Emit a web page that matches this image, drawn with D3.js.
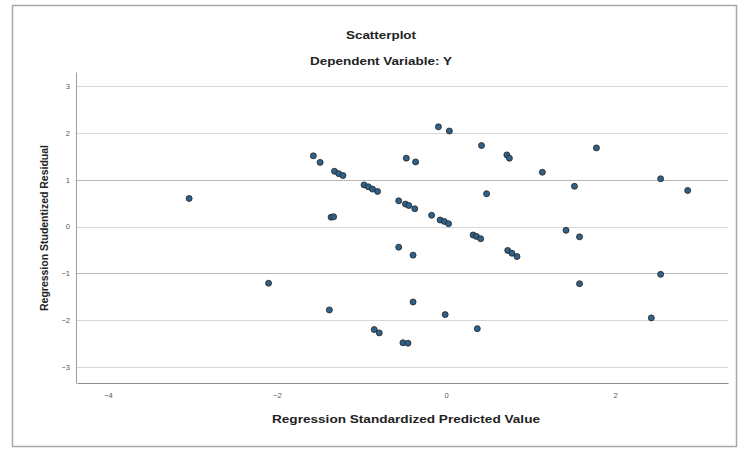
<!DOCTYPE html>
<html>
<head>
<meta charset="utf-8">
<script src="https://cdn.jsdelivr.net/npm/d3@7"></script>
<style>
  html, body { margin: 0; padding: 0; background: #fff; }
  svg { display: block; }
  text { font-family: "Liberation Sans", Arial, sans-serif; }
</style>
</head>
<body>
<svg id="chart" width="739" height="449"></svg>
<script>
// Regression standardized predicted value (x) and studentized residual (y)
const predicted = [
  -3.04, -2.10,
  -1.57, -1.49, -1.32, -1.27, -1.22,
  -0.97, -0.92, -0.87, -0.81,
  -0.56, -0.48, -0.44, -0.37,
  -0.17, -0.07, -0.02, 0.03,
  0.32, 0.36, 0.41,
  0.73, 0.78, 0.84,
  -1.36, -1.33,
  -0.47, -0.36, -0.09, 0.04, 0.42, 0.72, 0.75, 0.48,
  -0.56, -0.39,
  -1.38, -0.39, -0.01, -0.85, -0.79, -0.51, -0.45, 0.37,
  1.78, 1.14, 1.52, 2.54, 2.86,
  1.42, 1.58, 2.54, 1.58, 2.43
];
const residual = [
  0.60, -1.21,
  1.51, 1.37, 1.18, 1.13, 1.09,
  0.89, 0.85, 0.80, 0.75,
  0.55, 0.48, 0.45, 0.38,
  0.24, 0.14, 0.11, 0.06,
  -0.18, -0.21, -0.26,
  -0.51, -0.57, -0.64,
  0.20, 0.21,
  1.46, 1.38, 2.13, 2.04, 1.73, 1.53, 1.46, 0.70,
  -0.44, -0.61,
  -1.78, -1.61, -1.88, -2.20, -2.27, -2.48, -2.49, -2.18,
  1.68, 1.16, 0.86, 1.02, 0.77,
  -0.08, -0.22, -1.02, -1.22, -1.95
];
const xTicks = [-4, -2, 0, 2];
const yTicks = [-3, -2, -1, 0, 1, 2, 3];
const titleText = "Scatterplot";
const subtitleText = "Dependent Variable: Y";
const xTitle = "Regression Standardized Predicted Value";
const yTitle = "Regression Studentized Residual";

const svg = d3.select("#chart");

// outer frame
svg.append("rect")
  .attr("x", 12.5).attr("y", 5.5).attr("width", 724).attr("height", 441)
  .attr("fill", "#fff").attr("stroke", "#a8a8a8").attr("stroke-width", 1.5);

const plot = { left: 76, right: 728, top: 72, bottom: 383 };

const x = d3.scaleLinear().domain([-4.367, 3.337]).range([plot.left + 1, plot.right]);
const y = d3.scaleLinear().domain([-3.34, 3.30]).range([plot.bottom, plot.top]);

// gridlines
svg.append("g")
  .selectAll("line")
  .data(yTicks)
  .join("line")
  .attr("x1", plot.left).attr("x2", plot.right)
  .attr("y1", d => Math.round(y(d)) + 0.5).attr("y2", d => Math.round(y(d)) + 0.5)
  .attr("stroke", d => Math.abs(d) === 1 ? "#b8b8b8" : "#d6d6d6")
  .attr("stroke-width", 1);

// y axis
const yAxis = svg.append("g")
  .attr("transform", `translate(${plot.left},0)`)
  .call(d3.axisLeft(y).tickValues(yTicks).tickSize(0).tickPadding(6).tickFormat(d3.format("d")));
yAxis.select(".domain").attr("stroke", "#9c9c9c");
yAxis.selectAll("text").attr("font-size", 7.5).attr("fill", "#555")
  .style("font-family", "'Liberation Sans', Arial, sans-serif");

// x axis
const xAxis = svg.append("g")
  .attr("transform", `translate(0,${plot.bottom})`)
  .call(d3.axisBottom(x).tickValues(xTicks).tickSize(0).tickPadding(10).tickFormat(d3.format("d")));
xAxis.select(".domain").attr("stroke", "#8c8c8c").attr("stroke-width", 1.2);
xAxis.selectAll("text").attr("font-size", 7.5).attr("fill", "#555")
  .style("font-family", "'Liberation Sans', Arial, sans-serif");

// points
svg.append("g")
  .selectAll("circle")
  .data(predicted.map((v, i) => [v, residual[i]]))
  .join("circle")
  .attr("cx", d => x(d[0]))
  .attr("cy", d => y(d[1]))
  .attr("r", 3)
  .attr("fill", "#2f6189")
  .attr("stroke", "#222")
  .attr("stroke-width", 0.8);

// titles
svg.append("text")
  .attr("x", 381).attr("y", 39)
  .attr("text-anchor", "middle")
  .attr("font-size", 10.5).attr("font-weight", "bold").attr("fill", "#222")
  .attr("textLength", 70).attr("lengthAdjust", "spacingAndGlyphs")
  .text(titleText);

svg.append("text")
  .attr("x", 381).attr("y", 65)
  .attr("text-anchor", "middle")
  .attr("font-size", 10.5).attr("font-weight", "bold").attr("fill", "#222")
  .attr("textLength", 142).attr("lengthAdjust", "spacingAndGlyphs")
  .text(subtitleText);

svg.append("text")
  .attr("x", 406).attr("y", 423)
  .attr("text-anchor", "middle")
  .attr("font-size", 10.5).attr("font-weight", "bold").attr("fill", "#222")
  .attr("textLength", 268).attr("lengthAdjust", "spacingAndGlyphs")
  .text(xTitle);

svg.append("text")
  .attr("transform", "translate(48,228) rotate(-90)")
  .attr("text-anchor", "middle")
  .attr("font-size", 10.5).attr("font-weight", "bold").attr("fill", "#222")
  .attr("textLength", 166).attr("lengthAdjust", "spacingAndGlyphs")
  .text(yTitle);
</script>
</body>
</html>
